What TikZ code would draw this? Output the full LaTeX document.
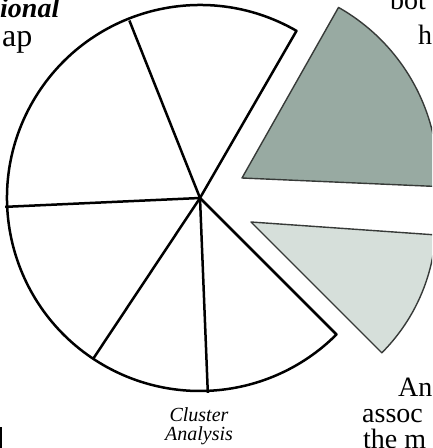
\documentclass[tikz,border=0pt]{standalone}
\usepackage{fontspec}
\setmainfont{Liberation Serif}
\definecolor{darkwedge}{RGB}{152,170,162}
\definecolor{lightwedge}{RGB}{214,223,218}
\definecolor{wedgeline}{RGB}{55,58,56}
\begin{document}
\begin{tikzpicture}[x=1pt,y=1pt,
  pieline/.style={line width=2.5pt,line join=round},
  wedge/.style={line width=1.4pt,draw=wedgeline,line join=round},
  bigtext/.style={font=\fontsize{28}{28}\selectfont,anchor=base west,inner sep=0pt},
  smalltext/.style={font=\itshape\fontsize{20}{20}\selectfont,anchor=base,inner sep=0pt}]
\useasboundingbox (0,0) rectangle (432,448);
\clip (0,0) rectangle (432,448);
% main pie
\coordinate (C) at (200,250);
\draw[pieline] (C) -- +(60:193) arc[start angle=60,end angle=315,radius=193] -- cycle;
\draw[pieline] (C) -- +(111.7:191);
\draw[pieline] (C) -- +(182.6:195);
\draw[pieline] (C) -- +(236.4:193);
\draw[pieline] (C) -- +(272.3:195);
% exploded wedges
\coordinate (D) at (242,270);
\draw[wedge,fill=darkwedge] (D) -- +(-2.5:196) arc[start angle=-2.5,end angle=60.5,radius=196] -- cycle;
\coordinate (L) at (251,226);
\draw[wedge,fill=lightwedge] (L) -- +(-45:185) arc[start angle=-45,end angle=-4,radius=185] -- cycle;
% texts
\node[bigtext,font=\bfseries\itshape\fontsize{28}{28}\selectfont] (t1) at (0,430) {ional};
\node[bigtext,font=\fontsize{32}{32}\selectfont] (t2) at (2,401) {ap};
\node[bigtext] (t3) at (390,438) {bot};
\node[bigtext] (t4) at (418,403) {h};
\node[bigtext] (t5) at (398,52) {An};
\node[bigtext] (t6) at (362,25) {assoc};
\node[bigtext] (t7) at (363,-1) {the m};
\node[smalltext] (c1) at (199,27) {Cluster};
\node[smalltext] (c2) at (199,8) {Analysis};
% small edge mark
\draw[line width=1.4pt] (1,0) -- (1,21);
\end{tikzpicture}
\end{document}
